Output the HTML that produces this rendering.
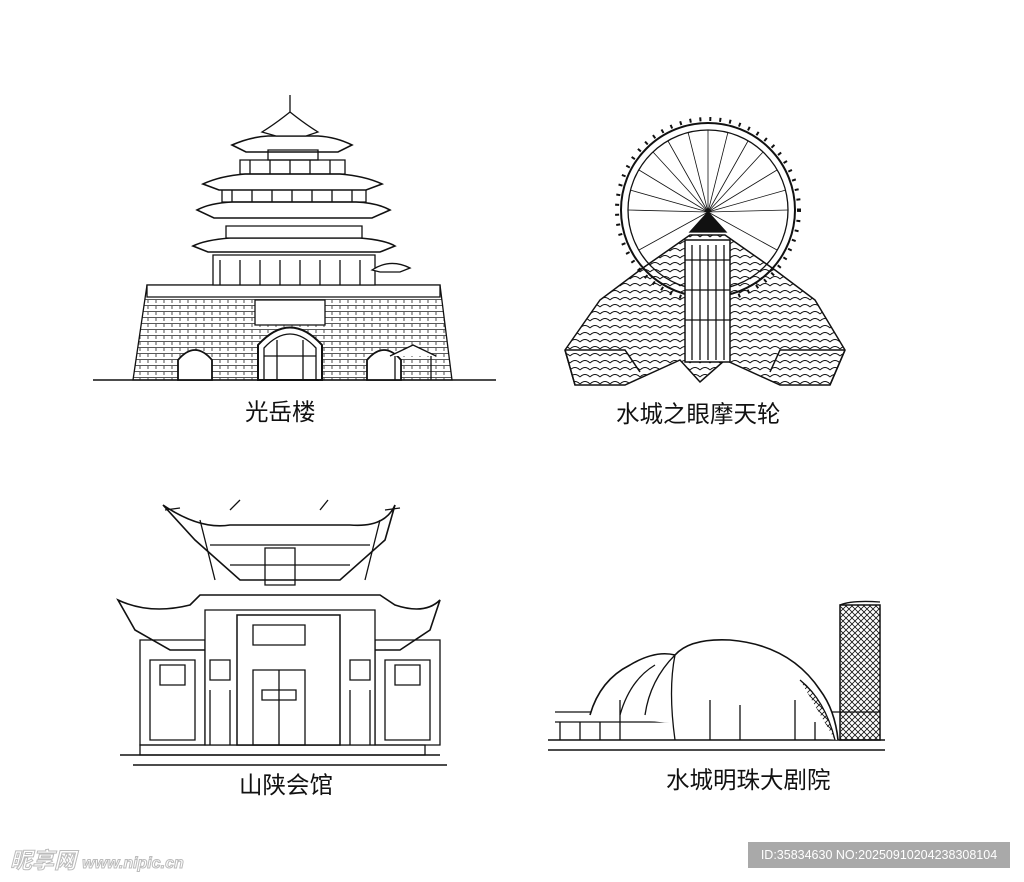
<!DOCTYPE html>
<html><head><meta charset="utf-8"><style>
html,body{margin:0;padding:0;background:#fff;}
.w{position:relative;width:1024px;height:882px;overflow:hidden;background:#fff;font-family:"Liberation Sans","Noto Sans CJK SC",sans-serif;}
.lb{position:absolute;font-size:23.5px;line-height:28px;color:#111;white-space:nowrap;}
</style></head><body><div class="w">
<svg width="1024" height="882" viewBox="0 0 1024 882" style="position:absolute;left:0;top:0" fill="none" stroke="#111" stroke-width="1.3">
<defs>
<pattern id="brick" width="8" height="6" patternUnits="userSpaceOnUse"><path d="M0 5.5H8M4 0V3" stroke="#222" stroke-width="0.8"/></pattern>
<pattern id="grid" width="6" height="6" patternUnits="userSpaceOnUse"><path d="M0 0L6 6M6 0L0 6" stroke="#111" stroke-width="0.8"/></pattern>
<pattern id="steps" width="10" height="7" patternUnits="userSpaceOnUse"><path d="M0 6Q5 1 10 6" stroke="#111" stroke-width="0.9"/></pattern>
</defs>
<!-- 光岳楼 -->
<line x1="93" y1="380" x2="496" y2="380" stroke-width="1.5"/>
<path d="M147 285H440L452 380H133Z" fill="url(#brick)"/>
<path d="M147 285H440V297H147Z" fill="#fff"/>
<path d="M258 380V345Q290 310 322 345V380Z" fill="#fff" stroke-width="2"/>
<path d="M264 380V348Q290 320 316 348V380M277 380V340M303 380V340M264 356H316" />
<path d="M178 380V360Q195 340 212 360V380Z" fill="#fff" stroke-width="1.8"/>
<path d="M367 380V360Q384 340 401 360V380Z" fill="#fff" stroke-width="1.8"/>
<path d="M255 300H325V325H255Z" fill="#fff"/>
<path d="M390 356L413 345L436 356M395 356V380M431 356V380" fill="#fff"/>
<path d="M213 285V255H375V285Z" fill="#fff"/>
<path d="M220 260V285M240 260V285M260 260V285M280 260V285M300 260V285M320 260V285M340 260V285M360 260V285"/>
<path d="M193 246Q205 240 230 238H360Q385 240 395 246L380 252H208Z" fill="#fff" stroke-width="1.6"/>
<path d="M226 226H362V238H226Z" fill="#fff"/>
<path d="M197 210Q210 203 232 202H356Q378 203 390 210L372 218H214Z" fill="#fff" stroke-width="1.6"/>
<path d="M222 188H366V202H222ZM232 188V202M252 188V202M272 188V202M292 188V202M312 188V202M332 188V202M352 188V202"/>
<path d="M203 184Q220 176 245 174H340Q365 176 382 184L366 190H219Z" fill="#fff" stroke-width="1.6"/>
<path d="M240 160H345V174H240ZM250 160V174M270 160V174M290 160V174M310 160V174M330 160V174"/>
<path d="M232 145Q250 137 268 136H318Q336 137 352 145L338 152H246Z" fill="#fff" stroke-width="1.6"/>
<path d="M268 150H318V160H268Z"/>
<path d="M262 132Q275 124 290 112Q305 124 318 132L306 136H276Z" fill="#fff"/>
<path d="M290 112V95"/>
<path d="M372 270Q390 258 410 268L400 272H380Z" fill="#fff"/>
<!-- 摩天轮 -->
<circle cx="708" cy="210" r="87" stroke-width="2"/>
<circle cx="708" cy="210" r="80"/>
<circle cx="708" cy="210" r="91" stroke-width="4" stroke-dasharray="2 8"/>
<g stroke-width="0.8">
<path d="M708 212L708 130M708 212L748 141M708 212L777 170M708 212L788 210M708 212L777 250M708 212L668 141M708 212L639 170M708 212L628 210M708 212L639 250M708 212L728 132M708 212L763 152M708 212L786 190M708 212L688 132M708 212L653 152M708 212L630 190"/>
</g>
<path d="M708 212L690 232H726Z" fill="#111"/>
<path d="M565 350L600 300L640 270L690 235H725L775 270L815 300L845 350L830 385H780L725 360L700 382L680 360L625 385H575Z" fill="url(#steps)" stroke-width="1.5"/>
<path d="M685 240H730V362H685Z" fill="#fff" stroke-width="1.5"/>
<path d="M692 245V360M700 245V360M708 245V360M716 245V360M724 245V360M685 260H730M685 290H730M685 320H730"/>
<path d="M565 350L575 385M845 350L830 385M565 350H625L640 372M845 350H780L770 372" stroke-width="1.5"/>
<!-- 山陕会馆 -->
<path d="M133 765H447M120 755H440" stroke-width="1.5"/>
<path d="M140 745H425V755H140Z"/>
<path d="M163 505Q200 530 230 525H350Q385 528 395 505L385 540L340 580H240L195 540Z" fill="#fff" stroke-width="1.6"/>
<path d="M210 545H370M230 565H350M200 520L215 580M380 520L365 580"/>
<path d="M265 548H295V585H265Z"/>
<path d="M165 510L180 508M385 510L400 508M230 510L240 500M320 510L328 500"/>
<path d="M118 600Q150 615 190 605L200 595H380L395 605Q425 615 440 600L430 630L400 650H170L135 630Z" fill="#fff" stroke-width="1.6"/>
<path d="M140 640H205V745H140ZM150 660H195V740H150Z"/>
<path d="M375 640H440V745H375ZM385 660H430V740H385Z" />
<path d="M205 610H375V745H205Z" fill="#fff"/>
<path d="M237 615H340V745H237Z" fill="#fff" stroke-width="1.5"/>
<path d="M253 625H305V645H253Z" fill="#fff"/>
<path d="M253 670H305V745H253ZM279 670V745M262 690H296V700H262Z"/>
<path d="M210 660H230V680H210ZM350 660H370V680H350ZM210 690V745M230 690V745M350 690V745M370 690V745"/>
<path d="M160 665H185V685H160ZM395 665H420V685H395Z"/>
<!-- 剧院 -->
<path d="M548 740H885M548 750H885" stroke-width="1.5"/>
<path d="M555 712H880M555 722H830" />
<path d="M590 715Q600 680 630 665Q655 650 675 655Q690 638 730 640Q790 645 820 690Q835 710 838 740" fill="#fff" stroke-width="1.6"/>
<path d="M620 715Q630 680 655 665M645 715Q650 680 675 655M675 655Q668 690 675 740"/>
<path d="M800 680Q825 700 835 740" fill="url(#grid)"/>
<path d="M840 605H880V740H840Z" fill="url(#grid)" stroke-width="1.5"/>
<path d="M840 605Q852 600 880 602"/>
<path d="M560 722V740M580 722V740M600 722V740M620 700V740M710 700V740M740 705V740M795 700V740M815 722V740"/>
</svg>
<div class="lb" style="left:245px;top:398px">光岳楼</div>
<div class="lb" style="left:616px;top:400px">水城之眼摩天轮</div>
<div class="lb" style="left:239px;top:771px">山陕会馆</div>
<div class="lb" style="left:666px;top:766px">水城明珠大剧院</div>
<div style="position:absolute;left:10px;top:843px;font-size:22px;color:#fff;-webkit-text-stroke:1px #bbb;font-weight:bold;font-style:italic;white-space:nowrap">昵享网 <span style="font-size:16px">www.nipic.cn</span></div>
<div style="position:absolute;left:748px;top:842px;width:262px;height:26px;background:#a9a9a9;color:#fff;font-size:12.5px;line-height:26px;text-align:center;white-space:nowrap">ID:35834630 NO:20250910204238308104</div>
</div></body></html>
